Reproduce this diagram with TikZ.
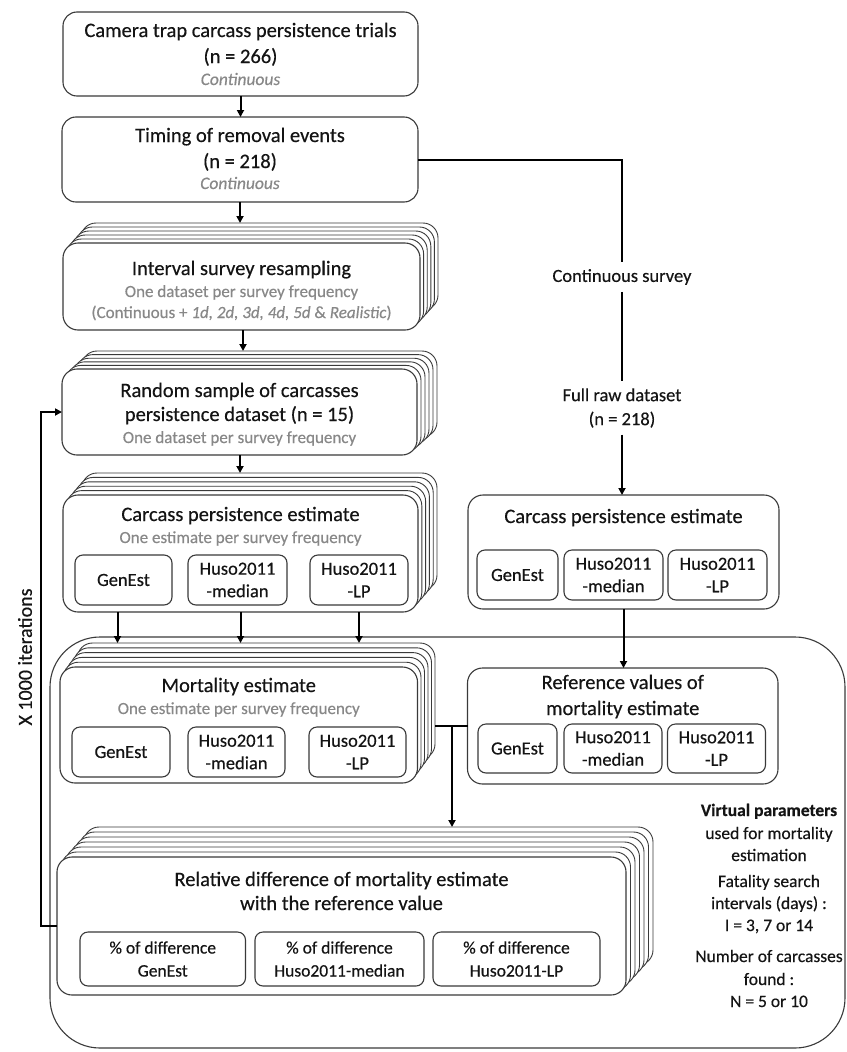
\documentclass[tikz,border=0pt]{standalone}
\usepackage{fontspec}
\setmainfont{Carlito}[FakeBold=0.4]
\usetikzlibrary{arrows.meta,calc}
\definecolor{bcol}{HTML}{3A3A3A}
\definecolor{tcol}{HTML}{141414}
\definecolor{gcol}{HTML}{888888}
\newcommand\fs[2]{\fontsize{#1}{#2}\selectfont}
% x1 y1 x2 y2 n dx dy
\newcommand\stacklayers[7]{%
  \foreach \k in {#5,...,1}{%
    \draw[layer] ({#1+\k*#6},{#2-\k*#7}) rectangle ({#3+\k*#6},{#4-\k*#7});
  }%
}
\begin{document}
\begin{tikzpicture}[x=1pt,y=-1pt,
  every node/.style={inner sep=0pt,outer sep=0pt},
  frame/.style={draw=bcol,line width=1.1pt,rounded corners=14pt,fill=white},
  layer/.style={draw=bcol,line width=0.9pt,rounded corners=15pt,fill=white},
  ibox/.style={draw=bcol,line width=1.1pt,rounded corners=8pt,fill=white,align=center,text=tcol,font=\fs{18.5}{22.5}},
  rbox/.style={draw=bcol,line width=1.1pt,rounded corners=8pt,fill=white,align=center,text=tcol,font=\fs{17.5}{23}},
  ttl/.style={anchor=base,text=tcol,font=\fs{20.5}{24}},
  sub/.style={anchor=base,text=gcol,font=\fs{17}{20}},
  lbl/.style={text=tcol,font=\fs{18.5}{24},align=center,inner sep=7pt},
  side/.style={anchor=base,text=tcol,font=\fs{17.5}{21}},
  conn/.style={line width=2pt,draw=black},
  arr/.style={conn,-{Triangle[length=7pt,width=7pt]}}
]
\useasboundingbox (0,0) rectangle (846,1052);

% big container
\node[draw=bcol,line width=1.1pt,rounded corners=50pt,minimum width=795,minimum height=411] (cont) at (447.5,842.5) {};

% box 1
\node[frame,minimum width=355,minimum height=84] (b1) at (240.5,54) {};
\node[ttl] (b1a) at (240.5,37) {Camera trap carcass persistence trials};
\node[ttl] (b1b) at (240.5,63) {(n = 266)};
\node[sub,font=\fs{17.5}{20}\itshape] (b1c) at (240.5,85) {Continuous};

% box 2
\node[frame,minimum width=356,minimum height=85] (b2) at (240,159.5) {};
\node[ttl] (b2a) at (240,142) {Timing of removal events};
\node[ttl] (b2b) at (240,168) {(n = 218)};
\node[sub,font=\fs{17.5}{20}\itshape] (b2c) at (240,189) {Continuous};

% interval survey stack
\stacklayers{63}{243}{420}{330}{5}{3.6}{4}
\node[frame,rounded corners=15pt,minimum width=357,minimum height=87] (iv) at (241.5,286.5) {};
\node[ttl] (iva) at (241.5,275) {Interval survey resampling};
\node[sub] (ivb) at (241.5,297) {One dataset per survey frequency};
\node[sub] (ivc) at (241.5,318) {(Continuous + \textit{1d, 2d, 3d, 4d, 5d} \& \textit{Realistic})};

% random sample stack
\stacklayers{62}{369}{417}{455}{5}{4}{3.6}
\node[frame,rounded corners=15pt,minimum width=355,minimum height=86] (rs) at (239.5,412) {};
\node[ttl] (rsa) at (239.5,397) {Random sample of carcasses};
\node[ttl] (rsb) at (239.5,421) {persistence dataset (n = 15)};
\node[sub] (rsc) at (239.5,443) {One dataset per survey frequency};

% left carcass persistence stack
\stacklayers{63}{495}{418}{612}{5}{3.8}{4.4}
\node[frame,rounded corners=15pt,minimum width=355,minimum height=117] (cpl) at (240.5,553.5) {};
\node[ttl] (cpla) at (240.5,521) {Carcass persistence estimate};
\node[sub] (cplb) at (240.5,543) {One estimate per survey frequency};
\node[ibox,minimum width=97,minimum height=50] (cplg) at (123.5,580) {GenEst};
\node[ibox,minimum width=99,minimum height=50] (cplm) at (237.5,580) {Huso2011\\-median};
\node[ibox,minimum width=98,minimum height=50] (cpll) at (359,580) {Huso2011\\-LP};

% right carcass persistence
\node[frame,rounded corners=15pt,minimum width=311,minimum height=114] (cpr) at (623.5,552) {};
\node[ttl] (cpra) at (623.5,523) {Carcass persistence estimate};
\node[ibox,minimum width=81,minimum height=50] (cprg) at (517.5,575) {GenEst};
\node[ibox,minimum width=99,minimum height=50] (cprm) at (613.5,575) {Huso2011\\-median};
\node[ibox,minimum width=99,minimum height=50] (cprl) at (717.5,575) {Huso2011\\-LP};

% mortality stack
\stacklayers{60}{667}{417.5}{783}{5}{3.5}{4.8}
\node[frame,rounded corners=15pt,minimum width=357.5,minimum height=116] (mo) at (238.75,725) {};
\node[ttl] (moa) at (238.75,692) {Mortality estimate};
\node[sub] (mob) at (238.75,714) {One estimate per survey frequency};
\node[ibox,minimum width=98,minimum height=50] (mog) at (121,752) {GenEst};
\node[ibox,minimum width=97,minimum height=50] (mom) at (236.5,752) {Huso2011\\-median};
\node[ibox,minimum width=97,minimum height=50] (mol) at (357.5,752) {Huso2011\\-LP};

% reference values
\node[frame,rounded corners=15pt,minimum width=310.5,minimum height=116] (rv) at (622.75,726) {};
\node[ttl] (rva) at (622.75,689) {Reference values of};
\node[ttl] (rvb) at (622.75,715) {mortality estimate};
\node[ibox,minimum width=79,minimum height=49] (rvg) at (517.5,748.5) {GenEst};
\node[ibox,minimum width=98,minimum height=49] (rvm) at (613,748.5) {Huso2011\\-median};
\node[ibox,minimum width=98,minimum height=49] (rvl) at (716.5,748.5) {Huso2011\\-LP};

% relative difference stack
\stacklayers{57}{857}{626}{995}{6}{4.5}{5}
\node[frame,rounded corners=15pt,minimum width=569,minimum height=138] (rd) at (341.5,926) {};
\node[ttl] (rda) at (341.5,886) {Relative difference of mortality estimate};
\node[ttl] (rdb) at (341.5,910) {with the reference value};
\node[rbox,minimum width=165.5,minimum height=54] (rdg) at (162.75,959) {\% of difference\\GenEst};
\node[rbox,minimum width=169,minimum height=54] (rdm) at (339.5,959) {\% of difference\\Huso2011-median};
\node[rbox,minimum width=167,minimum height=54] (rdl) at (516.5,959) {\% of difference\\Huso2011-LP};

% labels on the continuous branch
\node[lbl] (cs) at (622,277) {Continuous survey};
\node[lbl] (frd) at (622,408) {Full raw dataset\\(n = 218)};

% iterations label
\node[rotate=90,text=tcol,font=\fs{20}{24}] (it) at (25,657) {X 1000 iterations};

% side text
\node[side,font=\fs{17.5}{21}\bfseries] (v1) at (769,816) {Virtual parameters};
\node[side] (v2) at (769,839) {used for mortality};
\node[side] (v3) at (769,861) {estimation};
\node[side] (v4) at (769,887) {Fatality search};
\node[side] (v5) at (769,909) {intervals (days) :};
\node[side] (v6) at (769,931) {I = 3, 7 or 14};
\node[side] (v7) at (769,962) {Number of carcasses};
\node[side] (v8) at (769,985) {found :};
\node[side] (v9) at (769,1007) {N = 5 or 10};

% coordinates
\coordinate (ivtop) at (240,223);
\coordinate (rstop) at (243,351);
\coordinate (cpltop) at (240,473);
\coordinate (m1) at (117.5,643);
\coordinate (m2) at (240.5,643);
\coordinate (m3) at (359,643);
\coordinate (mr) at (435,726);
\coordinate (j) at (452,726);
\coordinate (rdtop) at (452,827);
\coordinate (lp) at (41,0);

% connectors
\draw[arr] (b1.south) -- (b1.south |- b2.north);
\draw[arr] (b2.south) -- (ivtop);
\draw[arr] (iv.south -| rstop) -- (rstop);
\draw[arr] (rs.south -| cpltop) -- (cpltop);
\draw[arr] (cpl.south -| m1) -- (m1);
\draw[arr] (cpl.south -| m2) -- (m2);
\draw[arr] (cpl.south -| m3) -- (m3);
\draw[conn] (b2.east) -| (cs.north);
\draw[conn] (cs.south) -- (frd.north);
\draw[arr] (frd.south) -- (frd.south |- cpr.north);
\draw[arr] (cpr.south) -- (cpr.south |- rv.north);
\draw[conn] (mr) -- (rv.west);
\draw[arr] (j) -- (rdtop);
\draw[arr] (rd.west) -- (rd.west -| lp) |- (rs.west);
\end{tikzpicture}
\end{document}
